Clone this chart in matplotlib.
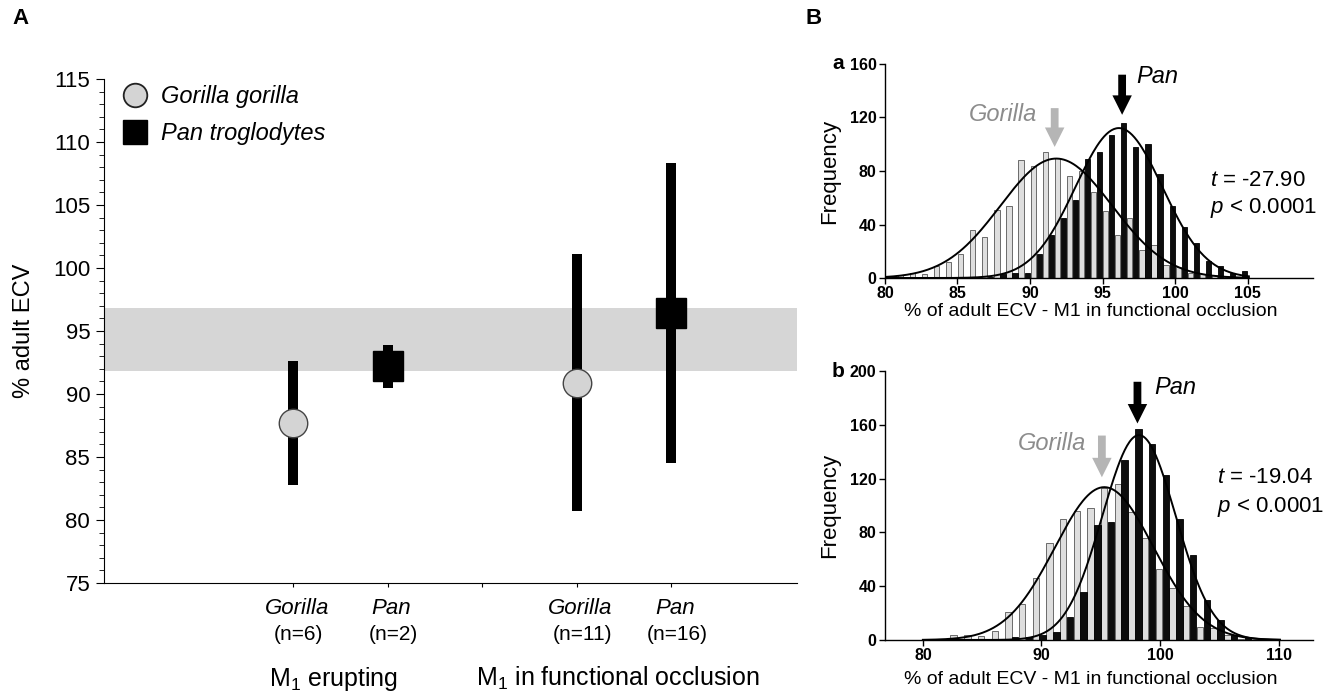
import numpy as np
import matplotlib
matplotlib.use("Agg")
import matplotlib.pyplot as plt
from matplotlib.ticker import MultipleLocator
from matplotlib.lines import Line2D
from matplotlib.patches import FancyArrowPatch

plt.rcParams['font.family'] = ['Liberation Sans', 'DejaVu Sans']
plt.rcParams['mathtext.fontset'] = 'custom'
plt.rcParams['mathtext.rm'] = 'Liberation Sans'
plt.rcParams['mathtext.it'] = 'Liberation Sans:italic'

# ---- panel A: % adult ECV by group ----
groups = [r'$\mathregular{M_1}$ erupting', r'$\mathregular{M_1}$ in functional occlusion']
taxa = ['Gorilla', 'Pan', 'Gorilla', 'Pan']
n_labels = ['(n=6)', '(n=2)', '(n=11)', '(n=16)']
a_pos = [2, 3, 5, 6]
a_mean = [87.7, 92.2, 90.9, 96.4]
a_low = [82.8, 90.5, 80.7, 84.5]
a_high = [92.6, 93.9, 101.1, 108.3]
adult_band = [91.85, 96.85]

# ---- panel B: bootstrap histograms (counts per bin) ----
ba_first, ba_width = 80.43, 0.833
ba_gor = [1, 2, 3.5, 2.7, 9, 12, 18, 36, 31, 51, 54, 88, 84, 94, 90, 76, 80, 64, 50, 32,
          45, 21, 25, 10, 8, 4, 3, 2, 1, 0]
ba_pan = [1, 1, 0, 0, 0, 0, 0, 1, 1, 3, 4, 3.5, 18, 32, 45, 58, 89, 94, 107, 116,
          98, 100, 78, 54, 38, 26, 13, 9, 3.5, 5.5]
bb_first, bb_width = 80.58, 1.154
bb_gor = [0.5, 0.5, 4, 3.7, 3, 7, 20.5, 27, 46, 72, 90, 96, 98, 113, 116, 95, 76, 53, 39, 25,
          10, 9, 4, 1, 0, 0]
bb_pan = [0, 0, 0, 1, 1, 1, 2, 2, 4, 6, 17, 36, 85.5, 88, 134, 157, 146, 123, 90, 63,
          30, 15, 3.7, 2.5, 1, 0.5]
t_stats = ['-27.90', '-19.04']

GREY_FILL = '#d6d6d6'
LIGHT_BAR = '#dedede'


def gauss_fit(x, c):
    x = np.asarray(x, float)
    c = np.asarray(c, float)
    m = c >= 3
    p = np.polyfit(x[m], np.log(c[m]), 2, w=c[m])
    mu = -p[1] / (2 * p[0])
    sd = np.sqrt(-1 / (2 * p[0]))
    amp = np.exp(p[2] - p[1] ** 2 / (4 * p[0]))
    return mu, sd, amp


fig = plt.figure(figsize=(13.39, 6.97), dpi=100)

# ---------------- Panel A ----------------
ax = fig.add_axes([0.0777, 0.1636, 0.5176, 0.7231])
ax.axhspan(adult_band[0], adult_band[1], color=GREY_FILL, lw=0, zorder=0)
ax.vlines(a_pos, a_low, a_high, color='black', lw=7.2, zorder=2)
ax.plot(a_pos[0::2], a_mean[0::2], 'o', ms=20.5, mfc='#d4d4d4', mec='#444444', mew=1, zorder=3)
ax.plot(a_pos[1::2], a_mean[1::2], 's', ms=21, mfc='black', mec='black', zorder=3)
ax.set_xlim(0, 7.33)
ax.set_ylim(75, 115)
ax.yaxis.set_major_locator(MultipleLocator(5))
ax.yaxis.set_minor_locator(MultipleLocator(1))
ax.set_xticks([2, 3, 4, 5, 6])
ax.set_xticklabels([])
ax.tick_params(axis='y', which='major', length=6, labelsize=16, pad=4)
ax.tick_params(axis='y', which='minor', length=3.5)
ax.tick_params(axis='x', length=3)
for s in ['top', 'right']:
    ax.spines[s].set_visible(False)
ax.set_ylabel('% adult ECV', fontsize=17)
ax.yaxis.set_label_coords(-0.1, 0.5)
tr = ax.get_xaxis_transform()
for x, t, n in zip(a_pos, taxa, n_labels):
    ax.text(x + 0.04, -0.05, t, transform=tr, ha='center', va='center', fontsize=16, style='italic')
    ax.text(x + 0.06, -0.102, n, transform=tr, ha='center', va='center', fontsize=15)
for g, xs in zip(groups, [a_pos[:2], a_pos[2:]]):
    ax.text(np.mean(xs) - 0.07, -0.19, g, transform=tr, ha='center', va='center', fontsize=18)
handles = [Line2D([], [], marker='o', ls='none', ms=17, mfc='#d4d4d4', mec='#222222', mew=1.3),
           Line2D([], [], marker='s', ls='none', ms=17, mfc='black', mec='black')]
ax.legend(handles, ['Gorilla gorilla', 'Pan troglodytes'], loc='upper left',
          bbox_to_anchor=(-0.006, 1.03), frameon=False, handlelength=1.2, handletextpad=0.5,
          labelspacing=0.6, prop={'size': 17, 'style': 'italic'})

fig.text(12 / 1339, 1 - 18 / 697, 'A', fontsize=16, fontweight='bold', va='center')
fig.text(806 / 1339, 1 - 18 / 697, 'B', fontsize=16, fontweight='bold', va='center')


def hist_panel(rect, first, width, gor, pan, xlim, ylim, xticks, yticks, t, arrows, labels, tag, frac):
    axh = fig.add_axes(rect)
    k = np.arange(len(gor))
    centers = first + k * width
    bw = frac * width
    axh.bar(centers - 0.25 * width, gor, width=bw, color=LIGHT_BAR, edgecolor='#555555', lw=0.6, zorder=2)
    axh.bar(centers + 0.25 * width, pan, width=bw, color='#0d0d0d', edgecolor='black', lw=0.6, zorder=2)
    xs = np.linspace(centers[0] - 0.5 * width, centers[-1] + 0.6 * width, 300)
    for series in (gor, pan):
        mu, sd, amp = gauss_fit(centers, series)
        axh.plot(xs, amp * np.exp(-0.5 * ((xs - mu) / sd) ** 2), color='black', lw=1.4, zorder=3)
    axh.set_xlim(*xlim)
    axh.set_ylim(*ylim)
    axh.set_xticks(xticks)
    axh.set_yticks(yticks)
    for s in ['top', 'right']:
        axh.spines[s].set_visible(False)
    for s in ['left', 'bottom']:
        axh.spines[s].set_linewidth(1.0)
    axh.tick_params(length=4, width=1, pad=2)
    for lab in axh.get_xticklabels() + axh.get_yticklabels():
        lab.set_fontweight('bold')
        lab.set_fontsize(11.5)
    axh.set_xlabel('% of adult ECV - M1 in functional occlusion', fontsize=14)
    axh.xaxis.set_label_coords(0.48, -0.115)
    axh.set_ylabel('Frequency', fontsize=16)
    axh.yaxis.set_label_coords(-0.105, 0.5)
    for (ax_x, y0, y1, col) in arrows:
        arr = FancyArrowPatch((ax_x, y0), (ax_x, y1),
                              arrowstyle='simple,head_width=1.4,head_length=1.4,tail_width=0.56',
                              mutation_scale=10, color=col, lw=0, shrinkA=0, shrinkB=0, zorder=4)
        axh.add_patch(arr)
    (gx, gy), (px, py), (tx, ty1, ty2) = labels
    axh.text(gx, gy, 'Gorilla', ha='right', va='center', fontsize=17, style='italic', color='#8c8c8c')
    axh.text(px, py, 'Pan', ha='left', va='center', fontsize=17, style='italic')
    axh.text(tx, ty1, r'$\it{t}$ = ' + t, ha='left', va='center', fontsize=16)
    axh.text(tx, ty2, r'$\it{p}$ < 0.0001', ha='left', va='center', fontsize=16)
    axh.text(-0.11, 1.0, tag, transform=axh.transAxes, ha='center', va='center', fontsize=15,
             fontweight='bold')
    return axh


hist_panel([0.6609, 0.6011, 0.3196, 0.3071], ba_first, ba_width, ba_gor, ba_pan,
           (80, 109.5), (0, 160), [80, 85, 90, 95, 100, 105], [0, 40, 80, 120, 160], t_stats[0],
           [(91.7, 127, 98, '#b5b5b5'), (96.35, 152, 122, 'black')],
           [(90.5, 122), (97.3, 151), (102.4, 73, 52)], 'a', 0.43)
hist_panel([0.6609, 0.0818, 0.3196, 0.3859], bb_first, bb_width, bb_gor, bb_pan,
           (76.8, 112.9), (0, 200), [80, 90, 100, 110], [0, 40, 80, 120, 160, 200], t_stats[1],
           [(95.1, 152, 121, '#b5b5b5'), (98.1, 192, 161, 'black')],
           [(93.8, 146), (99.5, 188), (104.8, 121, 99)], 'b', 0.47)

fig.savefig('out.png', dpi=100)
